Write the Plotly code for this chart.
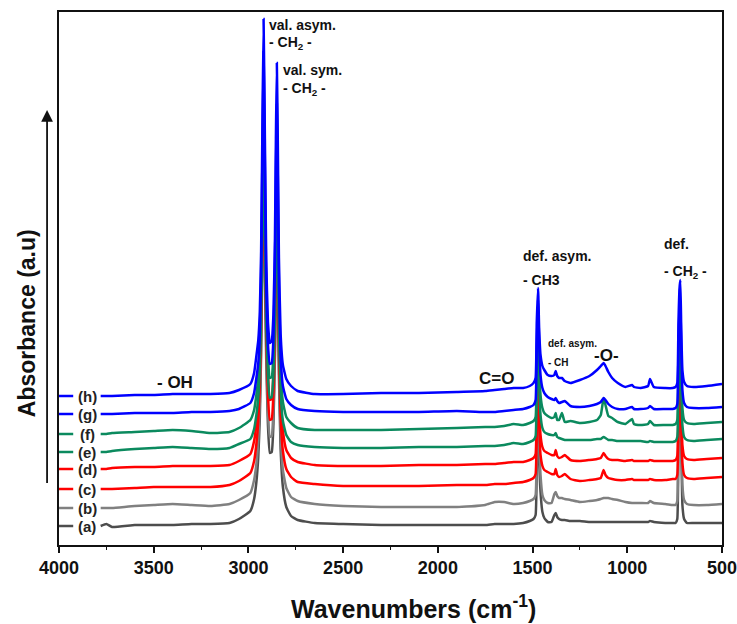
import plotly.graph_objects as go

# Wavenumber grid shared by all spectra (cm-1)
wavenumbers = [
    3780, 3750, 3720, 3600, 3500, 3400, 3300, 3200, 3100, 3050,
    2990, 2970, 2958, 2948, 2940, 2933, 2927, 2920, 2913, 2906, 2897, 2887,
    2877, 2868, 2860, 2855, 2850, 2845, 2839, 2830, 2818, 2800, 2775, 2740,
    2650, 2500, 2300, 2100, 1900, 1750, 1700, 1650, 1600, 1550,
    1515, 1495, 1484, 1478, 1471, 1465, 1458, 1448, 1438, 1420, 1400, 1385,
    1378, 1370, 1360, 1345, 1330, 1300,
    1250, 1200, 1160, 1140, 1125, 1115, 1100, 1080, 1050, 1010, 975, 965,
    930, 890, 880, 860, 800, 760,
    745, 736, 730, 725, 720, 715, 709, 700, 685, 650, 580, 500,
]

# Stacked absorbance spectra (a.u.)
spec_a = [
    0.19, 0.21, 0.18, 0.20, 0.20, 0.20, 0.21, 0.21, 0.22, 0.26,
    0.34, 0.46, 0.63, 0.88, 1.27, 1.92, 2.74, 3.37, 2.77, 1.86, 1.20, 0.92,
    0.93, 1.21, 1.90, 2.55, 2.92, 2.52, 1.70, 0.96, 0.58, 0.38, 0.29, 0.25,
    0.22, 0.21, 0.20, 0.20, 0.20, 0.20, 0.21, 0.21, 0.21, 0.22,
    0.24, 0.26, 0.30, 0.75, 1.35, 0.85, 0.53, 0.33, 0.27, 0.23, 0.23, 0.30,
    0.32, 0.28, 0.26, 0.25, 0.25, 0.24,
    0.24, 0.23, 0.23, 0.23, 0.23, 0.23, 0.23, 0.23, 0.23, 0.23, 0.23, 0.23,
    0.23, 0.23, 0.24, 0.23, 0.22, 0.22,
    0.22, 0.26, 1.05, 1.37, 1.42, 1.05, 0.40, 0.26, 0.22, 0.22, 0.22, 0.22,
]
spec_b = [
    0.37, 0.37, 0.37, 0.39, 0.40, 0.41, 0.40, 0.39, 0.41, 0.45,
    0.52, 0.65, 0.81, 1.05, 1.42, 2.03, 2.81, 3.41, 2.84, 1.98, 1.34, 1.08,
    1.09, 1.36, 2.02, 2.65, 3.00, 2.62, 1.83, 1.12, 0.75, 0.57, 0.48, 0.44,
    0.41, 0.39, 0.38, 0.38, 0.38, 0.40, 0.43, 0.43, 0.41, 0.42,
    0.44, 0.46, 0.50, 0.95, 1.50, 1.00, 0.70, 0.50, 0.45, 0.42, 0.42, 0.51,
    0.53, 0.49, 0.47, 0.47, 0.46, 0.45,
    0.43, 0.44, 0.45, 0.46, 0.47, 0.47, 0.47, 0.46, 0.45, 0.43, 0.42, 0.42,
    0.42, 0.42, 0.44, 0.42, 0.41, 0.40,
    0.40, 0.44, 1.15, 1.42, 1.47, 1.15, 0.60, 0.45, 0.41, 0.40, 0.40, 0.41,
]
spec_c = [
    0.56, 0.56, 0.56, 0.57, 0.58, 0.58, 0.58, 0.58, 0.60, 0.64,
    0.72, 0.84, 1.01, 1.24, 1.59, 2.17, 2.93, 3.51, 2.95, 2.12, 1.51, 1.25,
    1.26, 1.52, 2.15, 2.76, 3.10, 2.73, 1.98, 1.29, 0.94, 0.76, 0.68, 0.63,
    0.61, 0.59, 0.59, 0.59, 0.60, 0.60, 0.61, 0.61, 0.62, 0.63,
    0.65, 0.67, 0.71, 1.15, 1.65, 1.20, 0.90, 0.79, 0.75, 0.73, 0.71, 0.71,
    0.76, 0.70, 0.68, 0.69, 0.71, 0.66,
    0.64, 0.65, 0.66, 0.67, 0.75, 0.70, 0.67, 0.66, 0.65, 0.65, 0.66, 0.65,
    0.65, 0.65, 0.66, 0.65, 0.65, 0.66,
    0.66, 0.70, 1.20, 1.47, 1.53, 1.20, 0.82, 0.70, 0.67, 0.66, 0.67, 0.68,
]
spec_d = [
    0.76, 0.76, 0.77, 0.78, 0.78, 0.79, 0.79, 0.79, 0.80, 0.84,
    0.91, 1.04, 1.21, 1.44, 1.80, 2.39, 3.16, 3.75, 3.19, 2.34, 1.71, 1.45,
    1.46, 1.73, 2.38, 3.00, 3.34, 2.97, 2.19, 1.50, 1.14, 0.95, 0.87, 0.83,
    0.80, 0.79, 0.79, 0.80, 0.80, 0.81, 0.81, 0.82, 0.83, 0.83,
    0.85, 0.87, 0.91, 1.35, 1.85, 1.40, 1.10, 0.98, 0.94, 0.92, 0.90, 0.90,
    0.95, 0.89, 0.87, 0.88, 0.90, 0.85,
    0.84, 0.85, 0.86, 0.87, 0.92, 0.89, 0.86, 0.85, 0.85, 0.84, 0.85, 0.84,
    0.84, 0.84, 0.85, 0.84, 0.84, 0.84,
    0.85, 0.89, 1.30, 1.53, 1.60, 1.30, 1.00, 0.89, 0.86, 0.85, 0.86, 0.87,
]
spec_e = [
    0.93, 0.93, 0.94, 0.96, 0.97, 0.98, 0.97, 0.96, 0.97, 1.01,
    1.06, 1.16, 1.30, 1.47, 1.76, 2.30, 3.10, 3.82, 3.12, 2.24, 1.68, 1.47,
    1.48, 1.71, 2.31, 2.98, 3.40, 2.96, 2.15, 1.53, 1.24, 1.10, 1.03, 1.00,
    0.98, 0.97, 0.97, 0.98, 0.98, 0.99, 0.99, 1.00, 1.02, 1.01,
    1.03, 1.05, 1.09, 1.55, 2.05, 1.60, 1.30, 1.17, 1.13, 1.11, 1.10, 1.10,
    1.12, 1.08, 1.07, 1.06, 1.05, 1.05,
    1.05, 1.05, 1.06, 1.06, 1.08, 1.07, 1.05, 1.05, 1.04, 1.04, 1.04, 1.04,
    1.04, 1.03, 1.04, 1.03, 1.03, 1.03,
    1.04, 1.08, 1.55, 1.85, 1.95, 1.55, 1.20, 1.08, 1.05, 1.04, 1.05, 1.06,
]
spec_f = [
    1.11, 1.11, 1.12, 1.13, 1.14, 1.15, 1.14, 1.12, 1.13, 1.17,
    1.25, 1.35, 1.50, 1.68, 1.97, 2.52, 3.36, 4.10, 3.38, 2.46, 1.89, 1.67,
    1.68, 1.92, 2.54, 3.24, 3.68, 3.22, 2.38, 1.73, 1.43, 1.28, 1.22, 1.17,
    1.15, 1.15, 1.15, 1.16, 1.17, 1.18, 1.18, 1.19, 1.21, 1.20,
    1.22, 1.24, 1.28, 1.75, 2.25, 1.80, 1.50, 1.37, 1.32, 1.29, 1.27, 1.28,
    1.32, 1.25, 1.25, 1.32, 1.23, 1.24,
    1.22, 1.23, 1.25, 1.30, 1.47, 1.40, 1.29, 1.27, 1.23, 1.21, 1.26, 1.21,
    1.20, 1.21, 1.24, 1.20, 1.20, 1.20,
    1.21, 1.25, 1.75, 2.05, 2.15, 1.75, 1.37, 1.25, 1.22, 1.21, 1.22, 1.23,
]
spec_g = [
    1.31, 1.31, 1.31, 1.32, 1.32, 1.32, 1.33, 1.33, 1.34, 1.36,
    1.42, 1.52, 1.67, 1.82, 2.10, 2.70, 3.76, 4.94, 3.78, 2.61, 2.01, 1.81,
    1.82, 2.07, 2.78, 3.71, 4.41, 3.69, 2.59, 1.89, 1.59, 1.46, 1.40, 1.36,
    1.34, 1.33, 1.33, 1.33, 1.34, 1.33, 1.33, 1.34, 1.35, 1.36,
    1.38, 1.40, 1.45, 2.00, 2.45, 2.00, 1.70, 1.57, 1.52, 1.48, 1.46, 1.45,
    1.47, 1.44, 1.42, 1.43, 1.44, 1.39,
    1.38, 1.39, 1.41, 1.43, 1.47, 1.45, 1.41, 1.38, 1.36, 1.36, 1.38, 1.36,
    1.36, 1.37, 1.39, 1.36, 1.36, 1.36,
    1.37, 1.41, 1.95, 2.33, 2.45, 1.95, 1.55, 1.42, 1.38, 1.37, 1.37, 1.38,
]
spec_h = [
    1.49, 1.49, 1.49, 1.50, 1.50, 1.51, 1.51, 1.51, 1.52, 1.55,
    1.61, 1.72, 1.89, 2.05, 2.33, 2.94, 4.04, 5.26, 4.06, 2.85, 2.23, 2.02,
    2.04, 2.31, 3.07, 4.07, 4.82, 4.05, 2.87, 2.11, 1.80, 1.66, 1.59, 1.54,
    1.51, 1.51, 1.52, 1.52, 1.53, 1.54, 1.55, 1.56, 1.57, 1.57,
    1.59, 1.62, 1.67, 2.22, 2.57, 2.15, 1.90, 1.79, 1.75, 1.70, 1.69, 1.70,
    1.74, 1.69, 1.67, 1.67, 1.64, 1.62,
    1.65, 1.69, 1.75, 1.79, 1.82, 1.79, 1.73, 1.67, 1.62, 1.58, 1.60, 1.58,
    1.57, 1.59, 1.66, 1.58, 1.57, 1.57,
    1.58, 1.62, 2.22, 2.55, 2.65, 2.15, 1.75, 1.63, 1.59, 1.58, 1.59, 1.61,
]

series_labels = ["(a)", "(b)", "(c)", "(d)", "(e)", "(f)", "(g)", "(h)"]
series_values = [spec_a, spec_b, spec_c, spec_d, spec_e, spec_f, spec_g, spec_h]
series_colors = ["#4d4d4d", "#808080", "#ff0000", "#ff0000",
                 "#0b8a5e", "#0b8a5e", "#0000ff", "#0000ff"]

x_ticks = [4000, 3500, 3000, 2500, 2000, 1500, 1000, 500]

FONT = "Liberation Sans, Arial, sans-serif"

fig = go.Figure()

for label, vals, color in zip(series_labels, series_values, series_colors):
    fig.add_trace(go.Scatter(
        x=wavenumbers, y=vals, mode="lines", name=label,
        line=dict(color=color, width=2.5, shape="spline", smoothing=0.4),
    ))
    # short key stroke at the left edge, in line with the curve's baseline
    fig.add_trace(go.Scatter(
        x=[4000, 3925], y=[vals[0], vals[0]], mode="lines",
        line=dict(color=color, width=2.5), hoverinfo="skip",
    ))

annotations = []
for label, vals in zip(series_labels, series_values):
    annotations.append(dict(
        x=3852, y=vals[0], text=label, showarrow=False,
        xanchor="center", yanchor="middle",
        font=dict(family=FONT, size=15, color="#222", weight="bold"),
    ))

# band assignments
band_notes = [
    (2902, 5.20, "val. asym.", 14, "left"),
    (2902, 5.02, "- CH<sub>2</sub> -", 14, "left"),
    (2828, 4.75, "val. sym.", 14, "left"),
    (2828, 4.56, "- CH<sub>2</sub> -", 14, "left"),
    (1561, 2.89, "def. asym.", 14, "left"),
    (1561, 2.65, "- CH3", 14, "left"),
    (817, 3.01, "def.", 14, "left"),
    (817, 2.73, "- CH<sub>2</sub> -", 14, "left"),
    (1429, 2.02, "def. asym.", 10, "left"),
    (1429, 1.83, "- CH", 10, "left"),
    (1112, 1.90, "-O-", 17, "center"),
    (1688, 1.67, "C=O", 17, "center"),
    (3388, 1.63, "- OH", 17, "center"),
]
for x, y, text, size, anchor in band_notes:
    annotations.append(dict(
        x=x, y=y, text=text, showarrow=False, xanchor=anchor, yanchor="middle",
        font=dict(family=FONT, size=size, color="#111", weight="bold"),
    ))

# vertical intensity arrow beside the y axis
annotations.append(dict(
    xref="paper", yref="paper", x=-0.018, y=0.816,
    ax=0, ay=383, axref="pixel", ayref="pixel",
    text=" ", showarrow=True, arrowhead=2, arrowsize=1.3, arrowwidth=1.8,
    arrowcolor="#111",
))
annotations.append(dict(
    xref="paper", yref="paper", x=-0.048, y=0.4165, text="Absorbance (a.u)",
    textangle=-90, showarrow=False, xanchor="center", yanchor="middle",
    font=dict(family=FONT, size=23, color="#111", weight="bold"),
))
annotations.append(dict(
    xref="paper", yref="paper", x=0.534, y=-0.116,
    text="Wavenumbers (cm<sup>-1</sup>)",
    showarrow=False, xanchor="center", yanchor="middle",
    font=dict(family=FONT, size=25, color="#111", weight="bold"),
))

fig.update_layout(
    width=737, height=624,
    margin=dict(l=59, r=15, t=12, b=79, autoexpand=False),
    plot_bgcolor="white", paper_bgcolor="white",
    showlegend=False,
    annotations=annotations,
    xaxis=dict(
        range=[4000, 500], tickvals=x_ticks,
        ticktext=[str(v) for v in x_ticks],
        ticklabeloverflow="allow", automargin=False,
        showline=True, linecolor="#111", linewidth=1.6, mirror=True,
        ticks="outside", ticklen=6, tickwidth=1.5, tickcolor="#111",
        minor=dict(dtick=250, ticks="outside", ticklen=3, tickwidth=1.2,
                   tickcolor="#111"),
        tickfont=dict(family=FONT, size=18, color="#111", weight="bold"),
        showgrid=False, zeroline=False,
    ),
    yaxis=dict(
        range=[0, 5.33], showline=True, linecolor="#111", linewidth=1.6,
        mirror=True, showticklabels=False, ticks="", showgrid=False,
        zeroline=False, automargin=False,
    ),
)

fig.write_html("out.html")
